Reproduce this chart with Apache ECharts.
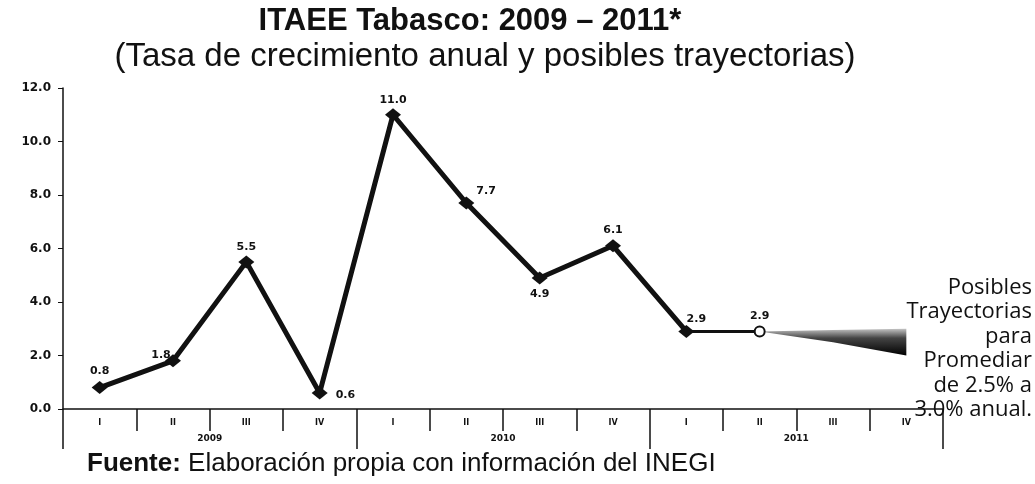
<!DOCTYPE html>
<html>
<head>
<meta charset="utf-8">
<script src="https://cdn.jsdelivr.net/npm/echarts@6/dist/echarts.min.js"></script>
<style>
  html, body { margin: 0; padding: 0; background: #fff; }
  #chart { width: 1035px; height: 484px; }
</style>
</head>
<body>
<div id="chart"></div>
<script>
// datos: tasa de crecimiento anual ITAEE Tabasco
const quarters = ['I', 'II', 'III', 'IV', 'I', 'II', 'III', 'IV', 'I', 'II', 'III', 'IV'];
const years = ['2009', '2010', '2011'];
const growth = [0.8, 1.8, 5.5, 0.6, 11.0, 7.7, 4.9, 6.1, 2.9, 2.9];
// posibles trayectorias (II, III, IV de 2011)
const fanLow = [2.9, 2.5, 2.0];
const fanHigh = [2.9, 2.95, 3.0];

// donde va cada etiqueta (solo estilo)
const labelPos = [
  { position: 'top', distance: 4 },
  { position: 'top', distance: 2, offset: [-12, 8] },
  { position: 'top', distance: 3 },
  { position: 'right', distance: 8, offset: [0, 2] },
  { position: 'top', distance: 3 },
  { position: 'right', distance: 2, offset: [0, -12] },
  { position: 'bottom', distance: 4 },
  { position: 'top', distance: 4 },
  { position: 'top', distance: 2, offset: [10, 2] },
  { position: 'top', distance: 4 }
];

const labelFont = { fontFamily: 'DejaVu Sans', fontWeight: 'bold', fontSize: 11, color: '#111' };

// linea principal hasta 2011-I
const mainData = growth.slice(0, 9).map((v, i) => ({
  value: v,
  label: Object.assign({ show: true, formatter: p => p.value.toFixed(1) }, labelFont, labelPos[i])
}));

// tramo final mas delgado con marcador hueco
const tailData = growth.map((v, i) => {
  if (i < 8) return '-';
  if (i === 8) return { value: v, symbol: 'none' };
  return {
    value: v,
    label: Object.assign({ show: true, formatter: p => p.value.toFixed(1) }, labelFont, labelPos[i])
  };
});

const pad = new Array(9).fill('-');
const fanBase = pad.concat(fanLow);
const fanBand = pad.concat(fanHigh.map((v, i) => +(v - fanLow[i]).toFixed(2)));

const chart = echarts.init(document.getElementById('chart'));
chart.setOption({
  backgroundColor: '#fff',
  animation: false,
  grid: { left: 63, right: 92, top: 88, bottom: 75, containLabel: false },
  xAxis: [
    {
      type: 'category',
      data: quarters,
      axisLine: { lineStyle: { color: '#111', width: 1.5 } },
      axisTick: { show: true, length: 22, interval: 0, lineStyle: { color: '#111', width: 1.5 } },
      axisLabel: { interval: 0, margin: 10, fontFamily: 'DejaVu Sans', fontWeight: 'bold', fontSize: 8, color: '#111' }
    },
    {
      type: 'category',
      data: years,
      position: 'bottom',
      axisLine: { show: false },
      axisTick: { show: true, length: 40, interval: 0, lineStyle: { color: '#111', width: 1.5 } },
      axisLabel: { interval: 0, margin: 25, fontFamily: 'DejaVu Sans', fontWeight: 'bold', fontSize: 9, color: '#111' }
    }
  ],
  yAxis: {
    type: 'value',
    min: 0, max: 12, interval: 2,
    splitLine: { show: false },
    axisLine: { show: true, lineStyle: { color: '#111', width: 1.5 } },
    axisTick: { show: true, length: 5, lineStyle: { color: '#111' } },
    axisLabel: { margin: 12, formatter: v => v.toFixed(1), fontFamily: 'DejaVu Sans', fontWeight: 'bold', fontSize: 12, color: '#111' }
  },
  series: [
    {
      // base invisible del abanico
      type: 'line', stack: 'fan', data: fanBase, symbol: 'none',
      lineStyle: { opacity: 0 }, silent: true, z: 1
    },
    {
      type: 'line', stack: 'fan', data: fanBand, symbol: 'none',
      lineStyle: { opacity: 0 }, silent: true, z: 1,
      areaStyle: {
        opacity: 1,
        color: new echarts.graphic.LinearGradient(0, 0, 0, 1, [
          { offset: 0, color: '#c4c4c4' },
          { offset: 0.35, color: '#444' },
          { offset: 1, color: '#000' }
        ])
      }
    },
    {
      type: 'line', data: mainData,
      symbol: 'diamond', symbolSize: [16, 13],
      itemStyle: { color: '#111' },
      lineStyle: { color: '#111', width: 5 },
      z: 3
    },
    {
      type: 'line', data: tailData,
      symbol: 'circle', symbolSize: 10,
      itemStyle: { color: '#fff', borderColor: '#111', borderWidth: 2 },
      lineStyle: { color: '#111', width: 3 },
      z: 2
    }
  ],
  graphic: [
    {
      type: 'text', x: 470, y: 21, z: 100,
      style: {
        text: 'ITAEE Tabasco: 2009 – 2011*',
        align: 'center', verticalAlign: 'middle',
        font: 'bold 31px "Liberation Sans", Arial, sans-serif', fill: '#111'
      }
    },
    {
      type: 'text', x: 485, y: 57, z: 100,
      style: {
        text: '(Tasa de crecimiento anual y posibles trayectorias)',
        align: 'center', verticalAlign: 'middle',
        font: '33px "Liberation Sans", Arial, sans-serif', fill: '#111'
      }
    },
    {
      type: 'text', x: 87, y: 464, z: 100,
      style: {
        text: '{b|Fuente:} Elaboración propia con información del INEGI',
        align: 'left', verticalAlign: 'middle',
        font: '26px "Liberation Sans", Arial, sans-serif', fill: '#111',
        rich: { b: { fontFamily: 'Liberation Sans', fontWeight: 'bold', fontSize: 26, fill: '#111' } }
      }
    },
    {
      type: 'text', x: 1032, y: 275, z: 100,
      style: {
        text: 'Posibles\nTrayectorias\npara\nPromediar\nde 2.5% a\n3.0% anual.',
        align: 'right', verticalAlign: 'top', lineHeight: 24.5,
        font: '22px "Open Sans", sans-serif', fill: '#111'
      }
    }
  ]
});
</script>
</body>
</html>
